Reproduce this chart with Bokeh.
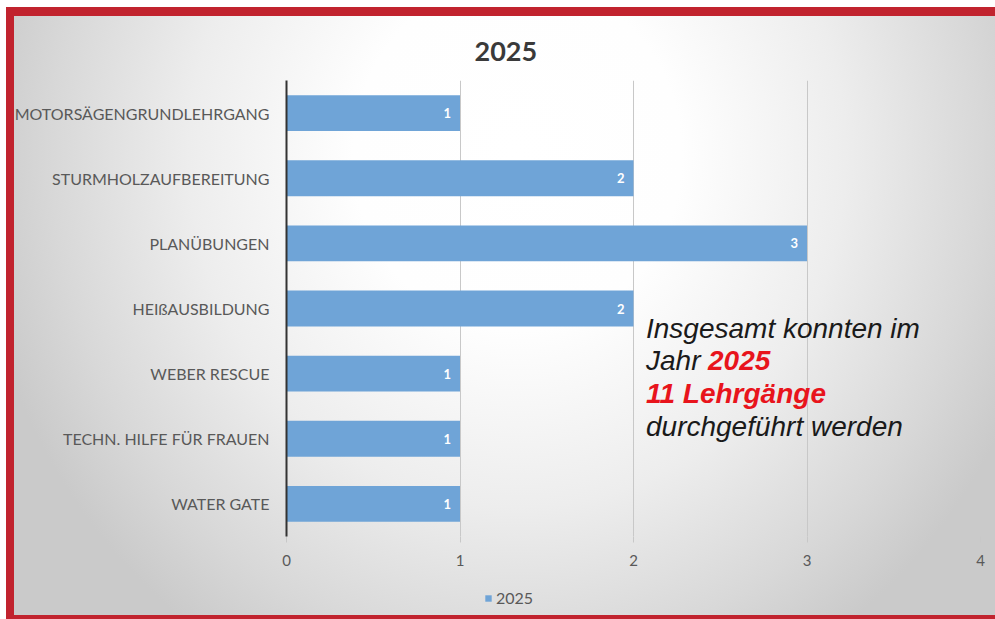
from bokeh.plotting import figure
from bokeh.layouts import column
from bokeh.models import FactorRange, Range1d, Label, Legend, LegendItem, ColumnDataSource, FixedTicker
from bokeh.embed import file_html
from bokeh.resources import INLINE
from bokeh.core.properties import value

# ---- data ----
categories = ["MOTORSÄGENGRUNDLEHRGANG", "STURMHOLZAUFBEREITUNG", "PLANÜBUNGEN",
              "HEIßAUSBILDUNG", "WEBER RESCUE", "TECHN. HILFE FÜR FRAUEN", "WATER GATE"]
counts = [1, 2, 3, 2, 1, 1, 1]
x_ticks = [0, 1, 2, 3, 4]
series_name = "2025"
title_text = "2025"
note_line1 = "Insgesamt konnten im"
note_line2a = "Jahr "
note_line2b = "2025"
note_line3 = "11 Lehrgänge"
note_line4 = "durchgeführt werden"

BAR = "#6fa4d7"
LABEL_GRAY = "#595959"
RED = "#e8141c"
FRAME_RED = "#c1232e"
FONT = "Lato"
NOTE_FONT = "Liberation Sans"

src = ColumnDataSource(dict(cats=categories, counts=counts, labels=[str(c) for c in counts]))

p = figure(width=995, height=585,
           y_range=FactorRange(factors=categories[::-1]),
           x_range=Range1d(0, 4),
           output_backend="svg", toolbar_location=None,
           min_border_left=286, min_border_right=15,
           min_border_top=80, min_border_bottom=49,
           title=title_text)
p.background_fill_alpha = 0
p.border_fill_alpha = 0
p.outline_line_color = None

# title
p.title.text_font = FONT
p.title.text_font_size = "27px"
p.title.text_font_style = "bold"
p.title.text_color = "#3a3a3a"
p.title.align = "left"
p.title.offset = 188
p.title.standoff = 39

bars = p.hbar(y="cats", right="counts", height=0.55, source=src,
              fill_color=BAR, line_color=None)

p.text(x="counts", y="cats", text="labels", source=src,
       x_offset=-9, text_align="right", text_baseline="middle",
       text_color="white", text_font_style="bold", text_font_size="13px",
       text_font=value(FONT))

# axes
p.xaxis.ticker = FixedTicker(ticks=x_ticks)
p.xaxis.axis_line_color = None
p.xaxis.major_tick_out = 6
p.xaxis.major_tick_in = 0
p.xaxis.major_tick_line_color = "#c8c8c8"
p.xaxis.minor_tick_line_color = None
p.xaxis.major_label_standoff = 12
p.xaxis.major_label_text_font = FONT
p.xaxis.major_label_text_font_size = "15px"
p.xaxis.major_label_text_color = LABEL_GRAY

p.yaxis.axis_line_color = "#333333"
p.yaxis.axis_line_width = 2
p.yaxis.major_tick_line_color = None
p.yaxis.minor_tick_line_color = None
p.yaxis.major_label_standoff = 11
p.yaxis.major_label_text_font = FONT
p.yaxis.major_label_text_font_size = "16px"
p.yaxis.major_label_text_color = LABEL_GRAY

p.xgrid.ticker = FixedTicker(ticks=x_ticks[1:])
p.xgrid.grid_line_color = "#c8c8c8"
p.ygrid.grid_line_color = None

# annotation
nx = 2.072
common = dict(x=nx, text_font=NOTE_FONT, text_font_size="28px", text_baseline="alphabetic")
p.add_layout(Label(y=3.19, text=note_line1, text_color="#1a1a1a", text_font_style="italic", **common))
p.add_layout(Label(y=2.695, text=note_line2a, text_color="#1a1a1a", text_font_style="italic", **common))
p.add_layout(Label(y=2.695, x_offset=62, text=note_line2b, text_color=RED, text_font_style="bold italic", **common))
p.add_layout(Label(y=2.19, text=note_line3, text_color=RED, text_font_style="bold italic", **common))
p.add_layout(Label(y=1.685, text=note_line4, text_color="#1a1a1a", text_font_style="italic", **common))

# legend strip (separate small figure under the chart; its bars have zero thickness)
leg = figure(width=995, height=34, x_range=p.x_range,
             y_range=FactorRange(factors=categories[::-1]),
             x_axis_location=None, y_axis_location=None,
             output_backend="svg", toolbar_location=None, min_border=0)
leg.background_fill_alpha = 0
leg.border_fill_alpha = 0
leg.outline_line_color = None
leg.grid.grid_line_color = None
leg_bars = leg.hbar(y="cats", right="counts", height=0, source=src,
                    fill_color=BAR, line_color=None)
legend = Legend(items=[LegendItem(label=series_name, renderers=[leg_bars])],
                orientation="horizontal", location=(198, 12),
                background_fill_alpha=0, border_line_color=None,
                glyph_width=8, glyph_height=8, label_standoff=4,
                label_text_font=FONT, label_text_font_size="16px",
                label_text_color=LABEL_GRAY, padding=0, margin=0)
leg.add_layout(legend)

solid = lambda c: f"linear-gradient({c}, {c})"
page = column(p, leg, spacing=0)
page.styles = {
    "background-image": ", ".join([
        solid("#ffffff"), solid("#ffffff"),
        solid(FRAME_RED), solid(FRAME_RED), solid(FRAME_RED),
        "radial-gradient(ellipse 55% 95% at 52% 25%, #ffffff 0%, #fefefe 30%, #ededed 60%, #d8d8d8 85%, #cacaca 100%)",
    ]),
    "background-position": "0 0, 0 0, 6px 0, 0 7px, 0 100%, 0 0",
    "background-size": "6px 100%, 100% 7px, 8px 100%, 100% 9px, 100% 4px, 100% 100%",
    "background-repeat": "no-repeat",
}

open("out.html", "w").write(file_html(page, INLINE))
